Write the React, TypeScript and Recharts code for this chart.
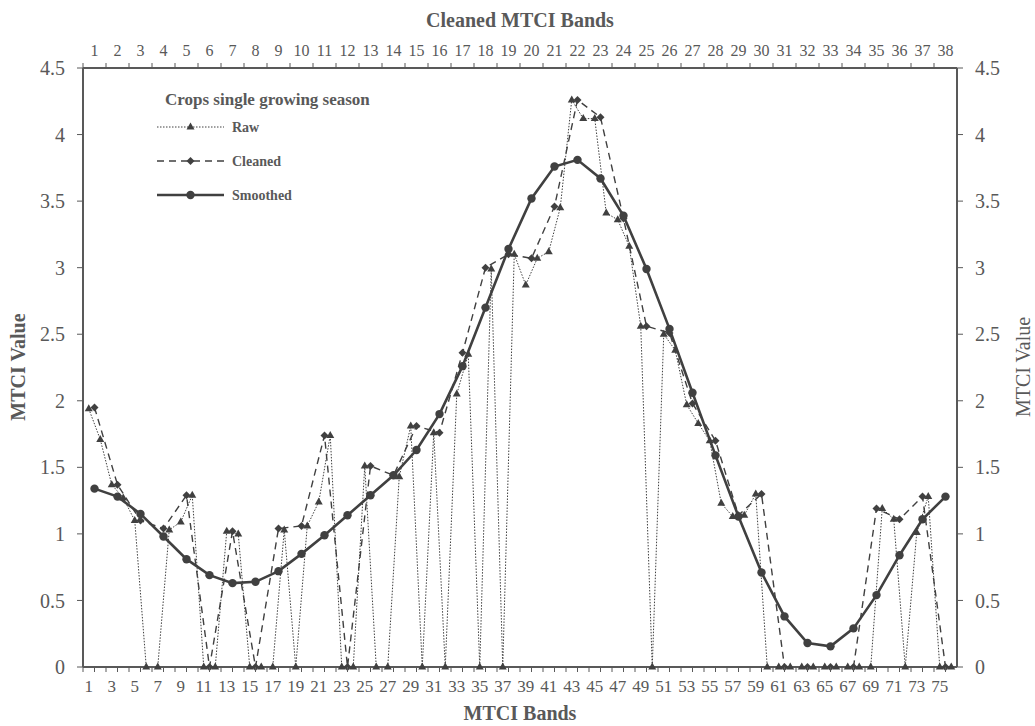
import { ComposedChart, Line, XAxis, YAxis } from "recharts";

// raw MTCI bands (bottom axis)
const rawBands = [
  1, 2, 3, 4, 5, 6, 7, 8, 9, 10, 11, 12, 13, 14, 15, 16, 17, 18, 19, 20,
  21, 22, 23, 24, 25, 26, 27, 28, 29, 30, 31, 32, 33, 34, 35, 36, 37, 38,
  39, 40, 41, 42, 43, 44, 45, 46, 47, 48, 49, 50, 51, 52, 53, 54, 55, 56,
  57, 58, 59, 60, 61, 62, 63, 64, 65, 66, 67, 68, 69, 70, 71, 72, 73, 74,
  75, 76,
];
const rawValues = [
  1.94, 1.71, 1.37, 1.27, 1.1, 0, 0, 1.03, 1.09, 1.29, 0, 0, 1.02, 1.0, 0,
  0, 0, 1.03, 0, 1.06, 1.24, 1.74, 0, 0, 1.51, 0, 0, 1.43, 1.81, 0, 1.76, 0,
  2.05, 2.35, 0, 2.99, 0, 3.1, 2.87, 3.07, 3.12, 3.45, 4.26, 4.12, 4.12,
  3.41, 3.36, 3.16, 2.56, 0, 2.5, 2.38, 1.97, 1.83, 1.7, 1.23, 1.13, 1.14,
  1.3, 0, 0, 0, 0, 0, 0, 0, 0, 0, 0, 1.19, 1.11, 0, 1.01, 1.28, 0, 0,
];

// cleaned bands (top axis)
const cleanedBands = [
  1, 2, 3, 4, 5, 6, 7, 8, 9, 10, 11, 12, 13, 14, 15, 16, 17, 18, 19, 20,
  21, 22, 23, 24, 25, 26, 27, 28, 29, 30, 31, 32, 33, 34, 35, 36, 37, 38,
];
const cleanedValues = [
  1.95, 1.37, 1.1, 1.04, 1.29, 0, 1.02, 0, 1.04, 1.06, 1.74, 0, 1.51, 1.44,
  1.81, 1.76, 2.36, 3.0, 3.1, 3.07, 3.46, 4.26, 4.13, 3.37, 2.56, 2.51,
  1.98, 1.7, 1.14, 1.3, 0, 0, 0, 0, 1.19, 1.11, 1.28, 0,
];
const smoothedValues = [
  1.34, 1.28, 1.15, 0.98, 0.81, 0.69, 0.63, 0.64, 0.72, 0.85, 0.99, 1.14,
  1.29, 1.44, 1.63, 1.9, 2.26, 2.7, 3.14, 3.52, 3.76, 3.81, 3.67, 3.39,
  2.99, 2.54, 2.06, 1.59, 1.13, 0.71, 0.38, 0.18, 0.155, 0.29, 0.54, 0.84,
  1.11, 1.28,
];

const bottomTicks = [
  1, 3, 5, 7, 9, 11, 13, 15, 17, 19, 21, 23, 25, 27, 29, 31, 33, 35, 37, 39,
  41, 43, 45, 47, 49, 51, 53, 55, 57, 59, 61, 63, 65, 67, 69, 71, 73, 75,
];
const topTicks = cleanedBands;
const valueTicks = [0, 0.5, 1, 1.5, 2, 2.5, 3, 3.5, 4, 4.5];

const rawData = rawBands.map((band, i) => ({ band, value: rawValues[i] }));
const cleanedData = cleanedBands.map((band, i) => ({ band, value: cleanedValues[i] }));
const smoothedData = cleanedBands.map((band, i) => ({ band, value: smoothedValues[i] }));

const INK = "#404040";
const TEXT = "#595959";
const FONT = "'Liberation Serif', 'Times New Roman', serif";
const PLOT_W = 874;

function TriangleDot(props: any) {
  const { cx, cy, index } = props;
  if (cx == null || cy == null) return <g key={index} />;
  return (
    <path
      key={index}
      d={`M${cx},${cy - 4.5}L${cx + 4},${cy + 2.5}L${cx - 4},${cy + 2.5}Z`}
      fill={INK}
    />
  );
}

function DiamondDot(props: any) {
  const { cx, cy, index } = props;
  if (cx == null || cy == null) return <g key={index} />;
  return (
    <path
      key={index}
      d={`M${cx},${cy - 4}L${cx + 4},${cy}L${cx},${cy + 4}L${cx - 4},${cy}Z`}
      fill={INK}
    />
  );
}

function CircleDot(props: any) {
  const { cx, cy, index } = props;
  if (cx == null || cy == null) return <g key={index} />;
  return <circle key={index} cx={cx} cy={cy} r={4.2} fill={INK} />;
}

// bottom axis: label on odd bands, tick marks on band boundaries
function BottomTick(props: any) {
  const { x, y, payload } = props;
  const half = PLOT_W / 76 / 2;
  return (
    <g>
      <line x1={x - half} x2={x - half} y1={y} y2={y + 5} stroke={TEXT} />
      <line x1={x + half} x2={x + half} y1={y} y2={y + 5} stroke={TEXT} />
      <text x={x} y={y + 25} textAnchor="middle" fill={TEXT} fontSize={17} fontFamily={FONT}>
        {payload.value}
      </text>
    </g>
  );
}

function TopTick(props: any) {
  const { x, y, payload } = props;
  const half = PLOT_W / 38 / 2;
  return (
    <g>
      <line x1={x - half} x2={x - half} y1={y} y2={y - 5} stroke={TEXT} />
      <text x={x} y={y - 12} textAnchor="middle" fill={TEXT} fontSize={16} fontFamily={FONT}>
        {payload.value}
      </text>
    </g>
  );
}

const legendItems = [
  { name: "Raw", dash: "1.5 1.5", width: 1, Dot: TriangleDot },
  { name: "Cleaned", dash: "7 5", width: 1.4, Dot: DiamondDot },
  { name: "Smoothed", dash: undefined, width: 2.6, Dot: CircleDot },
];

function Overlay() {
  return (
    <svg
      width={1035}
      height={726}
      style={{ position: "absolute", left: 0, top: 0, pointerEvents: "none" }}
      fontFamily={FONT}
    >
      <text x={520} y={27} textAnchor="middle" fontSize={20} fontWeight="bold" fill={TEXT}>
        Cleaned MTCI Bands
      </text>
      <text x={520} y={720} textAnchor="middle" fontSize={20} fontWeight="bold" fill={TEXT}>
        MTCI Bands
      </text>
      <text
        transform="translate(25,367) rotate(-90)"
        textAnchor="middle"
        fontSize={20}
        fontWeight="bold"
        fill={TEXT}
      >
        MTCI Value
      </text>
      <text
        transform="translate(1030,367) rotate(-90)"
        textAnchor="middle"
        fontSize={20}
        fill={TEXT}
      >
        MTCI Value
      </text>

      <text x={165} y={105} fontSize={17} fontWeight="bold" fill={TEXT}>
        Crops single growing season
      </text>
      {legendItems.map((item, i) => {
        const cy = 127 + i * 34;
        const { Dot } = item;
        return (
          <g key={item.name}>
            <line
              x1={157}
              x2={224}
              y1={cy}
              y2={cy}
              stroke={INK}
              strokeWidth={item.width}
              strokeDasharray={item.dash}
            />
            <Dot cx={190.5} cy={cy} index={i} />
            <text x={232} y={cy + 5} fontSize={14} fontWeight="bold" fill={TEXT}>
              {item.name}
            </text>
          </g>
        );
      })}
    </svg>
  );
}

export default function App() {
  return (
    <div style={{ position: "absolute", left: 0, top: 0, width: 1035, height: 726, background: "#fff", fontFamily: FONT }}>
      <ComposedChart
        width={1035}
        height={726}
        margin={{ top: 38, right: 18, bottom: 29, left: 23 }}
      >
        <XAxis
          xAxisId="raw"
          type="number"
          dataKey="band"
          domain={[0.5, 76.5]}
          ticks={bottomTicks}
          interval={0}
          height={30}
          tickSize={0}
          tickMargin={0}
          tickLine={false}
          axisLine={{ stroke: TEXT, strokeWidth: 2 }}
          tick={(p: any) => <BottomTick {...p} />}
          allowDataOverflow
        />
        <XAxis
          xAxisId="clean"
          orientation="top"
          type="number"
          dataKey="band"
          domain={[0.5, 38.5]}
          ticks={topTicks}
          interval={0}
          height={30}
          tickSize={0}
          tickMargin={0}
          tickLine={false}
          axisLine={{ stroke: TEXT, strokeWidth: 2 }}
          tick={(p: any) => <TopTick {...p} />}
          allowDataOverflow
        />
        <YAxis
          yAxisId="left"
          domain={[0, 4.5]}
          ticks={valueTicks}
          interval={0}
          width={60}
          tickSize={6}
          tickMargin={12}
          tickLine={{ stroke: TEXT }}
          axisLine={{ stroke: TEXT, strokeWidth: 2 }}
          tick={{ fill: TEXT, fontSize: 20, fontFamily: FONT }}
        />
        <YAxis
          yAxisId="right"
          orientation="right"
          domain={[0, 4.5]}
          ticks={valueTicks}
          interval={0}
          width={60}
          tickSize={6}
          tickMargin={12}
          tickLine={{ stroke: TEXT }}
          axisLine={{ stroke: TEXT, strokeWidth: 2 }}
          tick={{ fill: TEXT, fontSize: 20, fontFamily: FONT }}
        />
        {/* raw series on the right axis (same 0–4.5 scale) so that axis is drawn */}
        <Line
          data={rawData}
          xAxisId="raw"
          yAxisId="right"
          dataKey="value"
          name="Raw"
          type="linear"
          stroke={INK}
          strokeWidth={1}
          strokeDasharray="1.5 1.5"
          dot={TriangleDot}
          activeDot={false}
          isAnimationActive={false}
        />
        <Line
          data={cleanedData}
          xAxisId="clean"
          yAxisId="left"
          dataKey="value"
          name="Cleaned"
          type="linear"
          stroke={INK}
          strokeWidth={1.4}
          strokeDasharray="7 5"
          dot={DiamondDot}
          activeDot={false}
          isAnimationActive={false}
        />
        <Line
          data={smoothedData}
          xAxisId="clean"
          yAxisId="left"
          dataKey="value"
          name="Smoothed"
          type="linear"
          stroke={INK}
          strokeWidth={2.6}
          dot={CircleDot}
          activeDot={false}
          isAnimationActive={false}
        />
      </ComposedChart>
      <Overlay />
    </div>
  );
}
